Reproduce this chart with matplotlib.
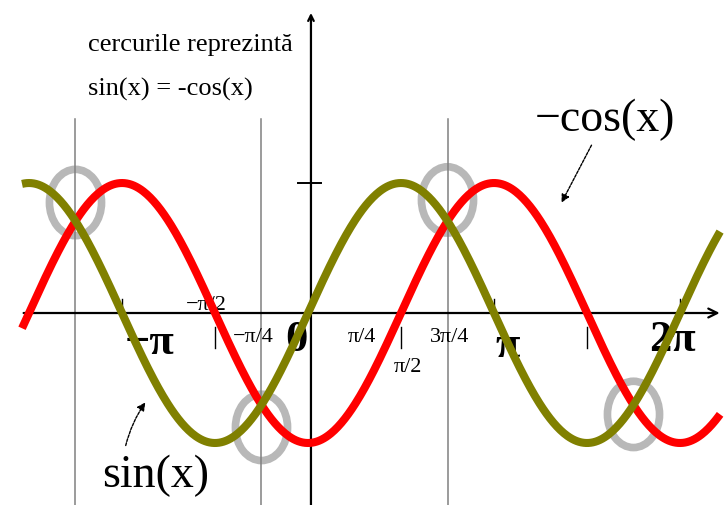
import matplotlib as mpl
import matplotlib.pyplot as plt
import numpy as np
from matplotlib.patches import Ellipse

mpl.rcParams.update({
    "font.family": ["Liberation Serif", "DejaVu Serif"],
    "figure.dpi": 100,
})

# curve range (radians)
x_start, x_end = -4.83, 6.96

# points where sin(x) = -cos(x), marked with circles
cross_x = [-5 * np.pi / 4, -np.pi / 4, 3 * np.pi / 4, 7 * np.pi / 4]
circle_y = [0.85, -0.88, 0.87, -0.78]

# guide lines only through the first three crossings
guide_x = cross_x[:3]

# x-axis labels
tick_text = ["−π/2", "−π/4", "π/4", "π/2", "3π/4"]
tick_x = [-1.71, -0.93, 0.91, 1.69, 2.40]
tick_y = [0.06, -0.19, -0.19, -0.42, -0.19]

big_text = ["−π", "0", "π", "2π"]
big_x = [-2.67, -0.19, 3.38, 6.15]
big_y = [-0.23, -0.21, -0.25, -0.21]

# small tick marks below / above the axis
ticks_below = [-np.pi / 2, np.pi / 2, 3 * np.pi / 2]
ticks_above = [-np.pi, np.pi, 2 * np.pi]

fig = plt.figure(figsize=(7.26, 5.05))
ax = fig.add_axes([0, 0, 1, 1])
ax.set_xlim(-5.202, 7.060)
ax.set_ylim(-1.477, 2.408)
ax.axis("off")

# vertical guide lines through the crossings
for gx in guide_x:
    ax.plot([gx, gx], [-1.5, 1.49], color="#808080", lw=1.1, zorder=2)

# circles around the crossings
for cx, cy in zip(cross_x, circle_y):
    ax.add_patch(Ellipse((cx, cy), 0.88, 0.51, fill=False, ec="#b8b8b8", lw=5.5, zorder=1))

# axes
ax.annotate("", xy=(7.00, 0), xytext=(-4.85, 0),
            arrowprops=dict(arrowstyle="->", color="black", lw=1.6, mutation_scale=16))
ax.annotate("", xy=(0.05, 2.33), xytext=(0.05, -1.5),
            arrowprops=dict(arrowstyle="->", color="black", lw=1.6, mutation_scale=10))
ax.plot([-0.17, 0.22], [1.0, 1.0], color="black", lw=1.4)

for tx in ticks_below:
    ax.plot([tx, tx], [-0.11, -0.27], color="black", lw=1.0)
for tx in ticks_above:
    ax.plot([tx, tx], [0.03, 0.11], color="black", lw=1.0)

# axis labels sit under the curves
for t, tx, ty in zip(tick_text, tick_x, tick_y):
    ax.text(tx, ty, t, fontsize=16, ha="center", va="center", zorder=2.5)
for t, tx, ty in zip(big_text, big_x, big_y):
    ax.text(tx, ty, t, fontsize=32, fontweight="bold", ha="center", va="center", zorder=2.5)

# the two curves
x = np.linspace(x_start, x_end, 600)
ax.plot(x, -np.cos(x), color="#ff0000", lw=5.8, solid_capstyle="butt", zorder=3)
ax.plot(x, np.sin(x), color="#808000", lw=5.8, solid_capstyle="butt", zorder=4)

ax.text(-3.72, 2.06, "cercurile reprezintă", fontsize=19, ha="left", va="center")
ax.text(-3.72, 1.72, "sin(x) = -cos(x)", fontsize=19, ha="left", va="center")

ax.text(3.83, 1.49, "−cos(x)", fontsize=33, ha="left", va="center")
ax.text(-3.48, -1.25, "sin(x)", fontsize=33, ha="left", va="center")

# pointer arrows to the curves
ax.annotate("", xy=(4.26, 0.83), xytext=(4.81, 1.31),
            arrowprops=dict(arrowstyle="-|>", color="black", lw=1.0, ls=(0, (2, 1)),
                            mutation_scale=12))
ax.annotate("", xy=(-2.72, -0.67), xytext=(-3.09, -1.04),
            arrowprops=dict(arrowstyle="-|>", color="black", lw=1.0, ls=(0, (2, 1)),
                            mutation_scale=12, connectionstyle="arc3,rad=-0.1"))

fig.savefig("out.png", dpi=100)
